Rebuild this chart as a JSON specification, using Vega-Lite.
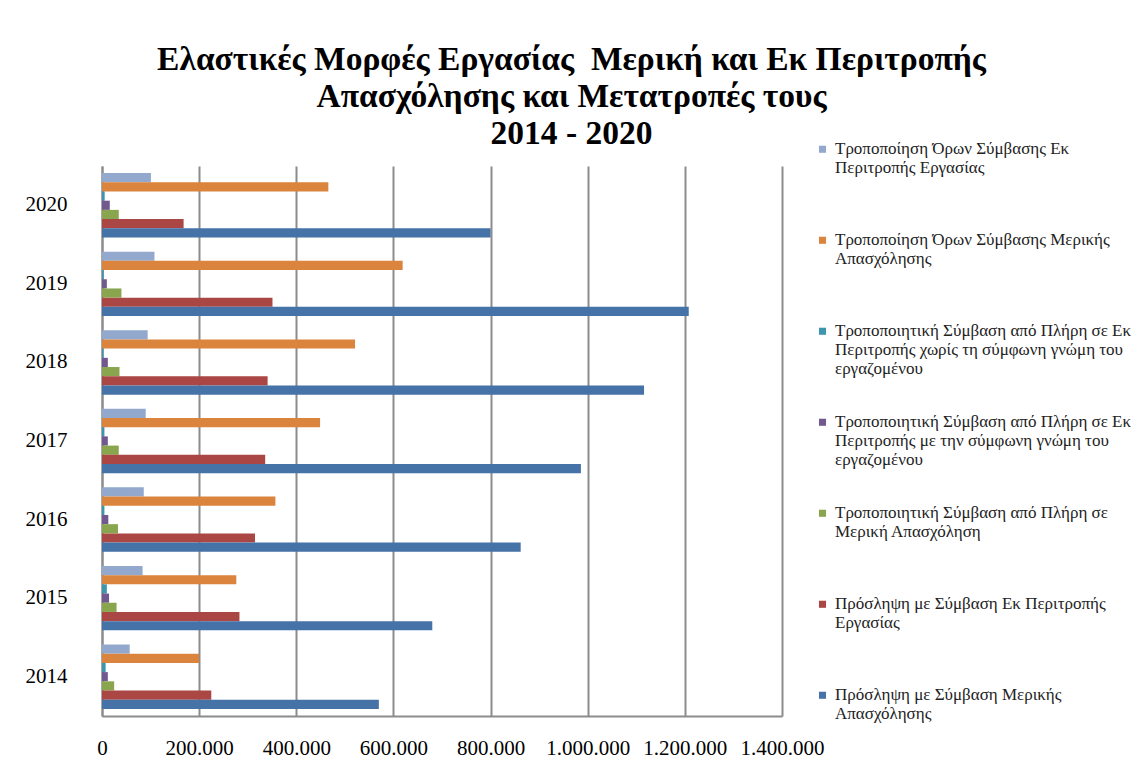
{
  "$schema": "https://vega.github.io/schema/vega-lite/v6.json",
  "width": 680,
  "height": 550,
  "padding": {"left": 25, "top": 42, "right": 5, "bottom": 5},
  "background": "white",
  "title": {
    "text": ["Ελαστικές Μορφές Εργασίας\u00a0 Μερική και Εκ Περιτροπής", "Απασχόλησης και Μετατροπές τους", "2014 - 2020"],
    "font": "Liberation Serif",
    "fontSize": 33.5,
    "fontWeight": "bold",
    "lineHeight": 37,
    "color": "black",
    "anchor": "middle",
    "frame": "bounds",
    "dx": -7,
    "offset": -6
  },
  "data": {
    "values": [
      {"year": "2020", "series": "Τροποποίηση Όρων Σύμβασης Εκ Περιτροπής Εργασίας", "value": 100700},
      {"year": "2020", "series": "Τροποποίηση Όρων Σύμβασης Μερικής Απασχόλησης", "value": 466000},
      {"year": "2020", "series": "Τροποποιητική Σύμβαση από Πλήρη σε Εκ Περιτροπής χωρίς τη σύμφωνη γνώμη του εργαζομένου", "value": 5500},
      {"year": "2020", "series": "Τροποποιητική Σύμβαση από Πλήρη σε Εκ Περιτροπής με την σύμφωνη γνώμη του εργαζομένου", "value": 16000},
      {"year": "2020", "series": "Τροποποιητική Σύμβαση από Πλήρη σε Μερική Απασχόληση", "value": 34500},
      {"year": "2020", "series": "Πρόσληψη με Σύμβαση Εκ Περιτροπής Εργασίας", "value": 168000},
      {"year": "2020", "series": "Πρόσληψη με Σύμβαση Μερικής Απασχόλησης", "value": 800000},

      {"year": "2019", "series": "Τροποποίηση Όρων Σύμβασης Εκ Περιτροπής Εργασίας", "value": 108000},
      {"year": "2019", "series": "Τροποποίηση Όρων Σύμβασης Μερικής Απασχόλησης", "value": 619000},
      {"year": "2019", "series": "Τροποποιητική Σύμβαση από Πλήρη σε Εκ Περιτροπής χωρίς τη σύμφωνη γνώμη του εργαζομένου", "value": 3500},
      {"year": "2019", "series": "Τροποποιητική Σύμβαση από Πλήρη σε Εκ Περιτροπής με την σύμφωνη γνώμη του εργαζομένου", "value": 10000},
      {"year": "2019", "series": "Τροποποιητική Σύμβαση από Πλήρη σε Μερική Απασχόληση", "value": 40000},
      {"year": "2019", "series": "Πρόσληψη με Σύμβαση Εκ Περιτροπής Εργασίας", "value": 351000},
      {"year": "2019", "series": "Πρόσληψη με Σύμβαση Μερικής Απασχόλησης", "value": 1208000},

      {"year": "2018", "series": "Τροποποίηση Όρων Σύμβασης Εκ Περιτροπής Εργασίας", "value": 94000},
      {"year": "2018", "series": "Τροποποίηση Όρων Σύμβασης Μερικής Απασχόλησης", "value": 521000},
      {"year": "2018", "series": "Τροποποιητική Σύμβαση από Πλήρη σε Εκ Περιτροπής χωρίς τη σύμφωνη γνώμη του εργαζομένου", "value": 3000},
      {"year": "2018", "series": "Τροποποιητική Σύμβαση από Πλήρη σε Εκ Περιτροπής με την σύμφωνη γνώμη του εργαζομένου", "value": 12000},
      {"year": "2018", "series": "Τροποποιητική Σύμβαση από Πλήρη σε Μερική Απασχόληση", "value": 36000},
      {"year": "2018", "series": "Πρόσληψη με Σύμβαση Εκ Περιτροπής Εργασίας", "value": 341000},
      {"year": "2018", "series": "Πρόσληψη με Σύμβαση Μερικής Απασχόλησης", "value": 1116000},

      {"year": "2017", "series": "Τροποποίηση Όρων Σύμβασης Εκ Περιτροπής Εργασίας", "value": 90000},
      {"year": "2017", "series": "Τροποποίηση Όρων Σύμβασης Μερικής Απασχόλησης", "value": 449000},
      {"year": "2017", "series": "Τροποποιητική Σύμβαση από Πλήρη σε Εκ Περιτροπής χωρίς τη σύμφωνη γνώμη του εργαζομένου", "value": 5000},
      {"year": "2017", "series": "Τροποποιητική Σύμβαση από Πλήρη σε Εκ Περιτροπής με την σύμφωνη γνώμη του εργαζομένου", "value": 12000},
      {"year": "2017", "series": "Τροποποιητική Σύμβαση από Πλήρη σε Μερική Απασχόληση", "value": 34500},
      {"year": "2017", "series": "Πρόσληψη με Σύμβαση Εκ Περιτροπής Εργασίας", "value": 336000},
      {"year": "2017", "series": "Πρόσληψη με Σύμβαση Μερικής Απασχόλησης", "value": 986000},

      {"year": "2016", "series": "Τροποποίηση Όρων Σύμβασης Εκ Περιτροπής Εργασίας", "value": 86000},
      {"year": "2016", "series": "Τροποποίηση Όρων Σύμβασης Μερικής Απασχόλησης", "value": 357000},
      {"year": "2016", "series": "Τροποποιητική Σύμβαση από Πλήρη σε Εκ Περιτροπής χωρίς τη σύμφωνη γνώμη του εργαζομένου", "value": 5000},
      {"year": "2016", "series": "Τροποποιητική Σύμβαση από Πλήρη σε Εκ Περιτροπής με την σύμφωνη γνώμη του εργαζομένου", "value": 13000},
      {"year": "2016", "series": "Τροποποιητική Σύμβαση από Πλήρη σε Μερική Απασχόληση", "value": 33000},
      {"year": "2016", "series": "Πρόσληψη με Σύμβαση Εκ Περιτροπής Εργασίας", "value": 315000},
      {"year": "2016", "series": "Πρόσληψη με Σύμβαση Μερικής Απασχόλησης", "value": 862000},

      {"year": "2015", "series": "Τροποποίηση Όρων Σύμβασης Εκ Περιτροπής Εργασίας", "value": 83500},
      {"year": "2015", "series": "Τροποποίηση Όρων Σύμβασης Μερικής Απασχόλησης", "value": 276500},
      {"year": "2015", "series": "Τροποποιητική Σύμβαση από Πλήρη σε Εκ Περιτροπής χωρίς τη σύμφωνη γνώμη του εργαζομένου", "value": 10000},
      {"year": "2015", "series": "Τροποποιητική Σύμβαση από Πλήρη σε Εκ Περιτροπής με την σύμφωνη γνώμη του εργαζομένου", "value": 14500},
      {"year": "2015", "series": "Τροποποιητική Σύμβαση από Πλήρη σε Μερική Απασχόληση", "value": 30000},
      {"year": "2015", "series": "Πρόσληψη με Σύμβαση Εκ Περιτροπής Εργασίας", "value": 283000},
      {"year": "2015", "series": "Πρόσληψη με Σύμβαση Μερικής Απασχόλησης", "value": 680000},

      {"year": "2014", "series": "Τροποποίηση Όρων Σύμβασης Εκ Περιτροπής Εργασίας", "value": 57000},
      {"year": "2014", "series": "Τροποποίηση Όρων Σύμβασης Μερικής Απασχόλησης", "value": 200000},
      {"year": "2014", "series": "Τροποποιητική Σύμβαση από Πλήρη σε Εκ Περιτροπής χωρίς τη σύμφωνη γνώμη του εργαζομένου", "value": 7500},
      {"year": "2014", "series": "Τροποποιητική Σύμβαση από Πλήρη σε Εκ Περιτροπής με την σύμφωνη γνώμη του εργαζομένου", "value": 12000},
      {"year": "2014", "series": "Τροποποιητική Σύμβαση από Πλήρη σε Μερική Απασχόληση", "value": 25000},
      {"year": "2014", "series": "Πρόσληψη με Σύμβαση Εκ Περιτροπής Εργασίας", "value": 225000},
      {"year": "2014", "series": "Πρόσληψη με Σύμβαση Μερικής Απασχόλησης", "value": 570000}
    ]
  },
  "mark": {"type": "bar"},
  "encoding": {
    "y": {
      "field": "year",
      "type": "nominal",
      "sort": "descending",
      "scale": {"paddingInner": 0.18, "paddingOuter": 0.09},
      "axis": {
        "title": null,
        "labelFont": "Liberation Serif",
        "labelFontSize": 21,
        "labelColor": "black",
        "labelPadding": 35,
        "ticks": false,
        "domainColor": "#8c8c8c",
        "domainWidth": 2
      }
    },
    "yOffset": {
      "field": "series",
      "type": "nominal",
      "sort": [
        "Τροποποίηση Όρων Σύμβασης Εκ Περιτροπής Εργασίας",
        "Τροποποίηση Όρων Σύμβασης Μερικής Απασχόλησης",
        "Τροποποιητική Σύμβαση από Πλήρη σε Εκ Περιτροπής χωρίς τη σύμφωνη γνώμη του εργαζομένου",
        "Τροποποιητική Σύμβαση από Πλήρη σε Εκ Περιτροπής με την σύμφωνη γνώμη του εργαζομένου",
        "Τροποποιητική Σύμβαση από Πλήρη σε Μερική Απασχόληση",
        "Πρόσληψη με Σύμβαση Εκ Περιτροπής Εργασίας",
        "Πρόσληψη με Σύμβαση Μερικής Απασχόλησης"
      ],
      "scale": {"paddingInner": 0, "paddingOuter": 0}
    },
    "x": {
      "field": "value",
      "type": "quantitative",
      "scale": {"domain": [0, 1400000], "nice": false},
      "axis": {
        "title": null,
        "values": [0, 200000, 400000, 600000, 800000, 1000000, 1200000, 1400000],
        "labelExpr": "replace(format(datum.value, ','), /,/g, '.')",
        "labelOverlap": false,
        "labelFlush": false,
        "labelFont": "Liberation Serif",
        "labelFontSize": 21,
        "labelColor": "black",
        "labelPadding": 21,
        "ticks": false,
        "grid": true,
        "gridColor": "#8c8c8c",
        "gridWidth": 2,
        "domainColor": "#8c8c8c",
        "domainWidth": 2
      }
    },
    "color": {
      "field": "series",
      "type": "nominal",
      "scale": {
        "domain": [
          "Τροποποίηση Όρων Σύμβασης Εκ Περιτροπής Εργασίας",
          "Τροποποίηση Όρων Σύμβασης Μερικής Απασχόλησης",
          "Τροποποιητική Σύμβαση από Πλήρη σε Εκ Περιτροπής χωρίς τη σύμφωνη γνώμη του εργαζομένου",
          "Τροποποιητική Σύμβαση από Πλήρη σε Εκ Περιτροπής με την σύμφωνη γνώμη του εργαζομένου",
          "Τροποποιητική Σύμβαση από Πλήρη σε Μερική Απασχόληση",
          "Πρόσληψη με Σύμβαση Εκ Περιτροπής Εργασίας",
          "Πρόσληψη με Σύμβαση Μερικής Απασχόλησης"
        ],
        "range": ["#92A8CD", "#DB843D", "#3D96AE", "#71588F", "#89A54E", "#AA4643", "#4572A7"]
      },
      "legend": {
        "title": null,
        "orient": "none",
        "legendX": 712,
        "legendY": -21,
        "direction": "vertical",
        "symbolType": "M-1,-2.2H1V-0.2H-1Z",
        "symbolSize": 50,
        "symbolStrokeWidth": 0,
        "labelFont": "Liberation Serif",
        "labelFontSize": 17,
        "labelColor": "#222",
        "labelBaseline": "alphabetic",
        "labelLineHeight": 20,
        "labelOffset": 4,
        "labelLimit": 400,
        "labelOverlap": false,
        "rowPadding": 35,
        "labelExpr": "datum.label == 'Τροποποίηση Όρων Σύμβασης Εκ Περιτροπής Εργασίας' ? ['Τροποποίηση Όρων Σύμβασης Εκ', 'Περιτροπής Εργασίας', ''] : datum.label == 'Τροποποίηση Όρων Σύμβασης Μερικής Απασχόλησης' ? ['Τροποποίηση Όρων Σύμβασης Μερικής', 'Απασχόλησης', ''] : datum.label == 'Τροποποιητική Σύμβαση από Πλήρη σε Εκ Περιτροπής χωρίς τη σύμφωνη γνώμη του εργαζομένου' ? ['Τροποποιητική Σύμβαση από Πλήρη σε Εκ', 'Περιτροπής χωρίς τη σύμφωνη γνώμη του', 'εργαζομένου'] : datum.label == 'Τροποποιητική Σύμβαση από Πλήρη σε Εκ Περιτροπής με την σύμφωνη γνώμη του εργαζομένου' ? ['Τροποποιητική Σύμβαση από Πλήρη σε Εκ', 'Περιτροπής με την σύμφωνη γνώμη του', 'εργαζομένου'] : datum.label == 'Τροποποιητική Σύμβαση από Πλήρη σε Μερική Απασχόληση' ? ['Τροποποιητική Σύμβαση από Πλήρη σε', 'Μερική Απασχόληση', ''] : datum.label == 'Πρόσληψη με Σύμβαση Εκ Περιτροπής Εργασίας' ? ['Πρόσληψη με Σύμβαση Εκ Περιτροπής', 'Εργασίας', ''] : ['Πρόσληψη με Σύμβαση Μερικής', 'Απασχόλησης', '']"
      }
    }
  },
  "config": {
    "view": {"stroke": null},
    "font": "Liberation Serif"
  }
}
